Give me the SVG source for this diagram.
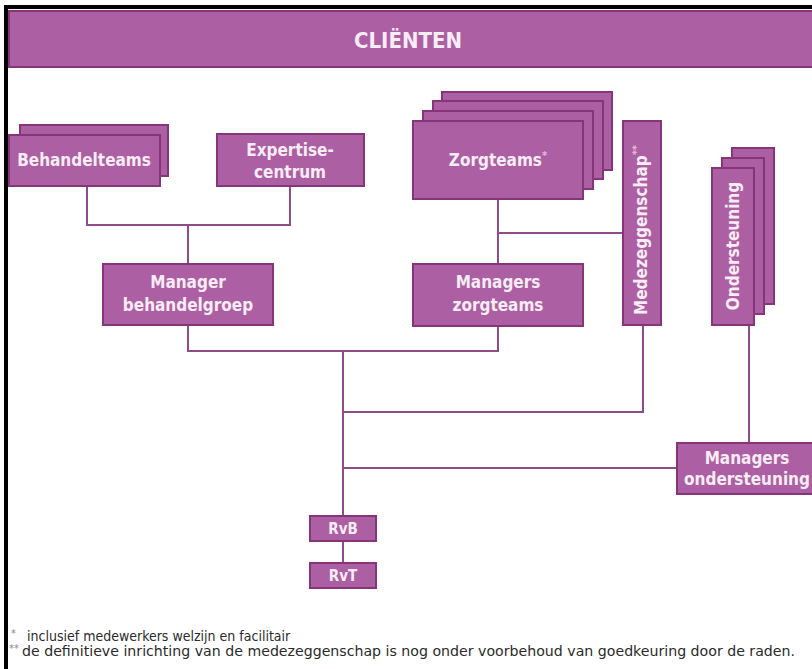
<svg xmlns="http://www.w3.org/2000/svg" width="812" height="669" viewBox="0 0 812 669">
<style>
.box{fill:#ad5fa3;stroke:#86357b;stroke-width:2}
.lbl{font-family:"DejaVu Sans Condensed","DejaVu Sans","Liberation Sans",sans-serif;font-stretch:condensed;font-weight:bold;fill:#f8ecf5;text-anchor:middle;font-size:17px}
.sup{fill:#e7b8dc;font-size:11px}
.conn{stroke:#904b88;stroke-width:2;fill:none}
.note{font-family:"DejaVu Sans Condensed","DejaVu Sans","Liberation Sans",sans-serif;font-stretch:condensed;fill:#2b2b2b;font-size:14px}
.star{font-family:"DejaVu Sans Condensed","DejaVu Sans",sans-serif;fill:#9a7f96;font-size:11px}
</style>
<rect x="0" y="0" width="812" height="669" fill="#ffffff"/>
<path d="M6,669 V7 H812" fill="none" stroke="#000" stroke-width="4"/>
<g id="connectors">
<path class="conn" d="M87,186 V225 H290 V186"/>
<path class="conn" d="M188,225 V264"/>
<path class="conn" d="M188,325 V351 H498 V326"/>
<path class="conn" d="M498,199 V264"/>
<path class="conn" d="M498,233 H623"/>
<path class="conn" d="M343,351 V516"/>
<path class="conn" d="M643,325 V412 H343"/>
<path class="conn" d="M749,325 V443"/>
<path class="conn" d="M343,468 H677"/>
<path class="conn" d="M343,541 V563"/>
</g>
<g id="clienten">
<rect class="box" x="9" y="11" width="805" height="56"/>
<text class="lbl" x="408" y="48" style="font-size:22px">CLIËNTEN</text>
</g>
<g id="behandelteams">
<rect class="box" x="20" y="125" width="148" height="51"/>
<rect class="box" x="9" y="135" width="151" height="51"/>
<text class="lbl" x="84" y="166">Behandelteams</text>
</g>
<g id="expertisecentrum">
<rect class="box" x="217" y="134" width="147" height="52"/>
<text class="lbl" x="290" y="156">Expertise-</text>
<text class="lbl" x="290" y="178">centrum</text>
</g>
<g id="zorgteams">
<rect class="box" x="442" y="92" width="170" height="78"/>
<rect class="box" x="433" y="101" width="170" height="78"/>
<rect class="box" x="423" y="111" width="170" height="78"/>
<rect class="box" x="413" y="121" width="170" height="78"/>
<text class="lbl" x="498" y="166">Zorgteams<tspan class="sup" dy="-7">*</tspan></text>
</g>
<g id="medezeggenschap">
<rect class="box" x="623" y="121" width="38" height="204"/>
<text class="lbl" transform="translate(647,230) rotate(-90)" x="0" y="0">Medezeggenschap<tspan class="sup" dy="-7">**</tspan></text>
</g>
<g id="ondersteuning">
<rect class="box" x="732" y="148" width="42" height="156"/>
<rect class="box" x="722" y="158" width="42" height="156"/>
<rect class="box" x="712" y="168" width="42" height="157"/>
<text class="lbl" transform="translate(739,246) rotate(-90)" x="0" y="0">Ondersteuning</text>
</g>
<g id="manager-behandelgroep">
<rect class="box" x="103" y="264" width="170" height="61"/>
<text class="lbl" x="188" y="288">Manager</text>
<text class="lbl" x="188" y="311">behandelgroep</text>
</g>
<g id="managers-zorgteams">
<rect class="box" x="413" y="264" width="170" height="62"/>
<text class="lbl" x="498" y="288">Managers</text>
<text class="lbl" x="498" y="311">zorgteams</text>
</g>
<g id="managers-ondersteuning">
<rect class="box" x="677" y="443" width="140" height="51"/>
<text class="lbl" x="747" y="464">Managers</text>
<text class="lbl" x="747" y="485">ondersteuning</text>
</g>
<g id="rvb">
<rect class="box" x="310" y="516" width="66" height="25"/>
<text class="lbl" x="343" y="534" style="font-size:15px">RvB</text>
</g>
<g id="rvt">
<rect class="box" x="310" y="563" width="66" height="25"/>
<text class="lbl" x="343" y="581" style="font-size:15px">RvT</text>
</g>
<g id="footnotes">
<text class="star" x="11" y="637">*</text>
<text class="note" x="27" y="641">inclusief medewerkers welzijn en facilitair</text>
<text class="star" x="9" y="652">**</text>
<text class="note" x="22" y="656" textLength="773" lengthAdjust="spacingAndGlyphs">de definitieve inrichting van de medezeggenschap is nog onder voorbehoud van goedkeuring door de raden.</text>
</g>
</svg>
